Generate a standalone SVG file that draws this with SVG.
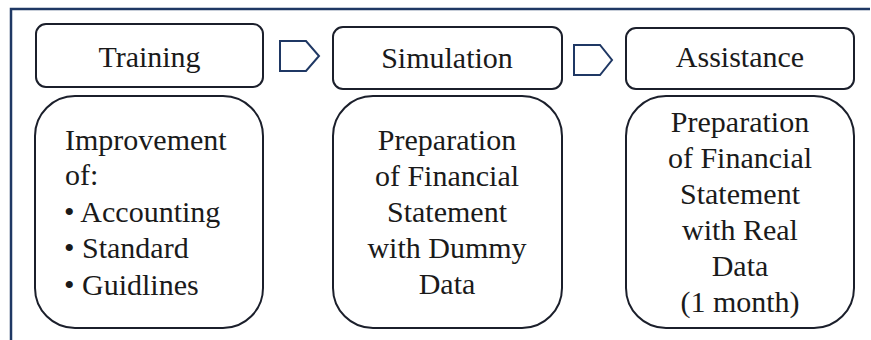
<svg xmlns="http://www.w3.org/2000/svg" width="871" height="340" viewBox="0 0 871 340">
<style>
.box{fill:#fff;stroke:#1b1f2b;stroke-width:2}
.arr{fill:#fff;stroke:#1f3864;stroke-width:2;stroke-linejoin:miter}
.t{font-family:'Liberation Serif','Times New Roman',Times,'DejaVu Serif',serif;font-size:30px;fill:#1a1a1a}
.c{text-anchor:middle}
</style>
<rect width="871" height="340" fill="#fff"/>
<path d="M11,340 V9 H870" fill="none" stroke="#1f3864" stroke-width="2.5"/>
<g id="training">
<rect class="box" x="36" y="24" width="227" height="63" rx="10"/>
<text class="t c" x="149.5" y="67">Training</text>
</g>
<g id="training-detail">
<rect class="box" x="35" y="96" width="228" height="232" rx="40"/>
<text class="t" x="65" y="150">Improvement</text>
<text class="t" x="65" y="185">of:</text>
<text class="t" x="64" y="222">• Accounting</text>
<text class="t" x="64" y="258">• Standard</text>
<text class="t" x="64" y="295">• Guidlines</text>
</g>
<g id="simulation">
<rect class="box" x="333" y="27" width="229" height="62" rx="10"/>
<text class="t c" x="447" y="68">Simulation</text>
</g>
<g id="simulation-detail">
<rect class="box" x="333" y="96" width="229" height="232" rx="40"/>
<text class="t c" x="447" y="150">Preparation</text>
<text class="t c" x="447" y="186">of Financial</text>
<text class="t c" x="447" y="222">Statement</text>
<text class="t c" x="447" y="258">with Dummy</text>
<text class="t c" x="447" y="294">Data</text>
</g>
<g id="assistance">
<rect class="box" x="626" y="28" width="228" height="61" rx="10"/>
<text class="t c" x="740" y="67">Assistance</text>
</g>
<g id="assistance-detail">
<rect class="box" x="626" y="96" width="228" height="232" rx="40"/>
<text class="t c" x="740" y="132">Preparation</text>
<text class="t c" x="740" y="168">of Financial</text>
<text class="t c" x="740" y="204">Statement</text>
<text class="t c" x="740" y="240">with Real</text>
<text class="t c" x="740" y="276">Data</text>
<text class="t c" x="740" y="312">(1 month)</text>
</g>
<g id="connectors">
<path class="arr" d="M280,41 H306 L319,56 L306,71 H280 Z"/>
<path class="arr" d="M574,45 H600 L612,60 L600,75 H574 Z"/>
</g>
</svg>
